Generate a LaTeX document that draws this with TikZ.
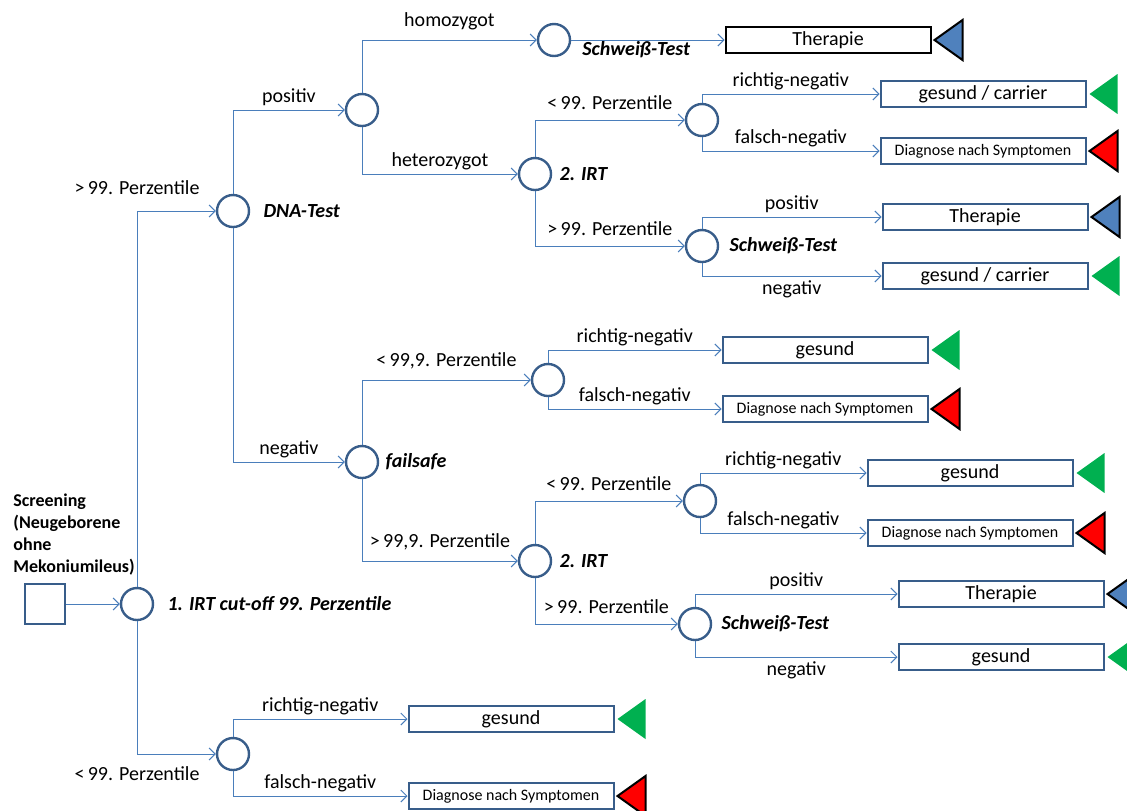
\documentclass[tikz,border=0pt]{standalone}
\usepackage{fontspec}
\setmainfont{Carlito}
\usetikzlibrary{positioning, arrows.meta}

\definecolor{linkblue}{HTML}{4A7EBB}
\definecolor{nodeblue}{HTML}{385D8A}
\definecolor{okgreen}{HTML}{00B050}
\definecolor{txblue}{HTML}{4F81BD}

\newcommand{\lblfont}{\fontsize{10pt}{12pt}\selectfont}
\newcommand{\smlfont}{\fontsize{8pt}{10pt}\selectfont}
\newcommand{\flag}[2]{\path[#1] (#2.east) ++(3,0) -- ++(28,-20) -- ++(0,40) -- cycle;}

\tikzset{
    chance/.style={circle, draw=nodeblue, line width=1.2pt, minimum size=16pt, inner sep=0pt},
    outcome/.style={draw=nodeblue, line width=1pt, minimum width=102.5pt, minimum height=13pt, inner sep=0pt, font=\lblfont},
    conn/.style={draw=linkblue, line width=0.5pt, -{Straight Barb[length=3pt, width=6pt]}},
    lbl/.style={font=\lblfont, inner sep=2pt, pos=0.75},
    testlbl/.style={font=\lblfont\bfseries\itshape, inner sep=0pt, anchor=west},
    flagok/.style={fill=okgreen},
    flagbad/.style={fill=red, draw=black, line width=1pt},
    flagtx/.style={fill=txblue, draw=black, line width=1pt}
}

\begin{document}
\begin{tikzpicture}[x=0.5pt, y=-0.5pt]
    \useasboundingbox (0,0) rectangle (1127,810);

    % decision nodes
    \node[draw=nodeblue, line width=1pt, minimum size=20pt, inner sep=0pt] (root) at (45,604) {};
    \node[font=\fontsize{9pt}{11pt}\selectfont\bfseries, align=left, anchor=south west, inner sep=0pt] (screen) at (13,576)
        {Screening\\(Neugeborene\\ohne\\Mekoniumileus)};
    \node[chance] (irt1) at (137,604) {};
    \node[chance] (dna) at (233,211) {};
    \node[chance] (neg1) at (233,754) {};
    \node[chance] (dnapos) at (362,110) {};
    \node[chance] (failsafe) at (362,462) {};
    \node[chance] (sw1) at (554,40) {};
    \node[chance] (irt2a) at (535,174) {};
    \node[chance] (n2a) at (702,120) {};
    \node[chance] (sw2) at (702,246) {};
    \node[chance] (fsneg) at (548,380) {};
    \node[chance] (irt2b) at (535,561) {};
    \node[chance] (n2b) at (700,501) {};
    \node[chance] (sw3) at (695,624) {};

    \node[testlbl, right=6.5pt of irt1.east, anchor=west] (irt1lbl) {1. IRT cut-off 99. Perzentile};
    \node[testlbl, right=6.5pt of dna.east, anchor=west] (dnalbl) {DNA-Test};
    \node[testlbl, right=3pt of failsafe.east, anchor=west] (fslbl) {failsafe};
    \node[testlbl] (sw1lbl) at (582,50) {Schweiß-Test};
    \node[testlbl, right=3.5pt of irt2a.east, anchor=west] (irt2albl) {2. IRT};
    \node[testlbl, right=5pt of sw2.east, anchor=west] (sw2lbl) {Schweiß-Test};
    \node[testlbl, right=3.5pt of irt2b.east, anchor=west] (irt2blbl) {2. IRT};
    \node[testlbl, right=4.5pt of sw3.east, anchor=west] (sw3lbl) {Schweiß-Test};

    % end points
    \node[outcome, draw=black] (ther1) at (828,40) {Therapie};
    \node[outcome] (gc1) at (983,94) {gesund / carrier};
    \node[outcome, font=\smlfont] (dx1) at (983,151) {Diagnose nach Symptomen};
    \node[outcome] (ther2) at (985,217) {Therapie};
    \node[outcome] (gc2) at (985,276) {gesund / carrier};
    \node[outcome] (ges1) at (825,350) {gesund};
    \node[outcome, font=\smlfont] (dx2) at (825,409) {Diagnose nach Symptomen};
    \node[outcome] (ges2) at (970,473) {gesund};
    \node[outcome, font=\smlfont] (dx3) at (970,533) {Diagnose nach Symptomen};
    \node[outcome] (ther3) at (1001,594) {Therapie};
    \node[outcome] (ges3) at (1001,657) {gesund};
    \node[outcome] (ges4) at (511,719) {gesund};
    \node[outcome, font=\smlfont] (dx4) at (511,796) {Diagnose nach Symptomen};

    \flag{flagtx}{ther1}
    \flag{flagok}{gc1}
    \flag{flagbad}{dx1}
    \flag{flagtx}{ther2}
    \flag{flagok}{gc2}
    \flag{flagok}{ges1}
    \flag{flagbad}{dx2}
    \flag{flagok}{ges2}
    \flag{flagbad}{dx3}
    \flag{flagtx}{ther3}
    \flag{flagok}{ges3}
    \flag{flagok}{ges4}
    \flag{flagbad}{dx4}

    % branches
    \draw[conn] (root) -- (irt1);
    \draw[conn] (irt1) |- (dna) node[lbl, pos=0.5, above=6pt] {>\,99. Perzentile};
    \draw[conn] (irt1) |- (neg1) node[lbl, pos=0.5, below=4pt] {<\,99. Perzentile};
    \draw[conn] (dna) |- (dnapos) node[lbl, above] {positiv};
    \draw[conn] (dna) |- (failsafe) node[lbl, above] {negativ};
    \draw[conn] (dnapos) |- (sw1) node[lbl, above=3pt] {homozygot};
    \draw[conn] (dnapos) |- (irt2a) node[lbl, above] {heterozygot};
    \draw[conn] (sw1) -- (ther1);
    \draw[conn] (irt2a) |- (n2a) node[lbl, above=3pt] {<\,99. Perzentile};
    \draw[conn] (irt2a) |- (sw2) node[lbl, above=3pt] {>\,99. Perzentile};
    \draw[conn] (n2a) |- (gc1) node[lbl, above] {richtig-negativ};
    \draw[conn] (n2a) |- (dx1) node[lbl, above] {falsch-negativ};
    \draw[conn] (sw2) |- (ther2) node[lbl, above] {positiv};
    \draw[conn] (sw2) |- (gc2) node[lbl, below] {negativ};
    \draw[conn] (failsafe) |- (fsneg) node[lbl, above=3pt] {<\,99,9. Perzentile};
    \draw[conn] (failsafe) |- (irt2b) node[lbl, above=3pt] {>\,99,9. Perzentile};
    \draw[conn] (fsneg) |- (ges1) node[lbl, above] {richtig-negativ};
    \draw[conn] (fsneg) |- (dx2) node[lbl, above] {falsch-negativ};
    \draw[conn] (irt2b) |- (n2b) node[lbl, above=3pt] {<\,99. Perzentile};
    \draw[conn] (irt2b) |- (sw3) node[lbl, above=3pt] {>\,99. Perzentile};
    \draw[conn] (n2b) |- (ges2) node[lbl, above] {richtig-negativ};
    \draw[conn] (n2b) |- (dx3) node[lbl, above] {falsch-negativ};
    \draw[conn] (sw3) |- (ther3) node[lbl, above] {positiv};
    \draw[conn] (sw3) |- (ges3) node[lbl, below] {negativ};
    \draw[conn] (neg1) |- (ges4) node[lbl, above] {richtig-negativ};
    \draw[conn] (neg1) |- (dx4) node[lbl, above] {falsch-negativ};

\end{tikzpicture}
\end{document}
